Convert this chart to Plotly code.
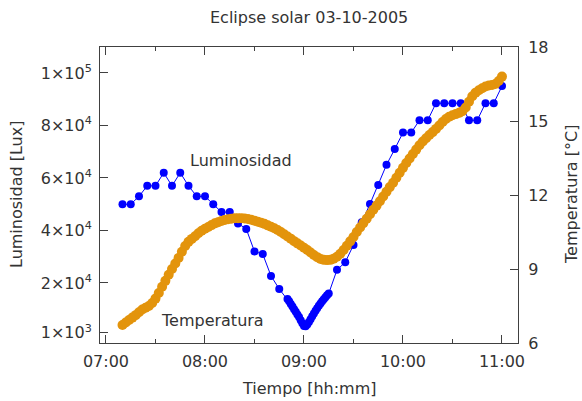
import pandas as pd
import plotly.graph_objects as go

DATE = "2005-10-03"

# Luminosity (Lux)
lum_times = ["07:10", "07:15", "07:20", "07:25", "07:30", "07:35", "07:40", "07:45", "07:50", "07:55",
             "08:00", "08:05", "08:10", "08:15", "08:20", "08:25", "08:30", "08:35", "08:40", "08:45",
             "08:50", "08:51", "08:52", "08:53", "08:54", "08:55", "08:56", "08:57", "08:58", "08:59",
             "09:00", "09:01", "09:02", "09:03", "09:04", "09:05", "09:06", "09:07", "09:08", "09:09",
             "09:10", "09:11", "09:12", "09:13", "09:14", "09:15", "09:20", "09:25", "09:30", "09:35",
             "09:40", "09:45", "09:50", "09:55", "10:00", "10:05", "10:10", "10:15", "10:20", "10:25",
             "10:30", "10:35", "10:40", "10:45", "10:50", "10:55", "11:00"]
lum_values = [50000, 50000, 53000, 57000, 57000, 62000, 57000, 62000, 57000, 53000,
              53000, 50000, 47000, 47000, 42700, 40600, 32000, 31000, 22700, 17700,
              13900, 13000, 12000, 11000, 10000, 9000, 8000, 7000, 5800, 4700,
              3600, 3500, 4200, 5100, 6200, 7300, 8400, 9400, 10400, 11300,
              12200, 13000, 13800, 14600, 15300, 16000, 25000, 27900, 34500, 43100,
              50100, 57300, 65000, 71000, 77300, 77300, 82000, 82000, 88500, 88500,
              88500, 88500, 82000, 82000, 88500, 88500, 95000]

# Temperature (°C), every 2 minutes from 07:10 to 11:00
temp_start = "07:10"
temp_step_min = 2
temp_values = [6.73, 6.83, 6.93, 7.03, 7.13, 7.25, 7.36, 7.43, 7.50, 7.62,
               7.80, 8.03, 8.28, 8.52, 8.77, 9.00, 9.22, 9.45, 9.70, 9.93,
               10.10, 10.22, 10.33, 10.45, 10.55, 10.63, 10.70, 10.78, 10.85, 10.90,
               10.95, 10.99, 11.02, 11.04, 11.06, 11.06, 11.06, 11.05, 11.03, 11.00,
               10.96, 10.92, 10.88, 10.83, 10.77, 10.71, 10.65, 10.58, 10.50, 10.41,
               10.32, 10.23, 10.13, 10.04, 9.95, 9.86, 9.77, 9.67, 9.57, 9.48,
               9.41, 9.37, 9.36, 9.37, 9.42, 9.50, 9.62, 9.77, 9.94, 10.12,
               10.30, 10.50, 10.68, 10.86, 11.04, 11.22, 11.40, 11.57, 11.75, 11.94,
               12.13, 12.32, 12.50, 12.70, 12.90, 13.10, 13.30, 13.48, 13.66, 13.84,
               14.02, 14.17, 14.30, 14.43, 14.55, 14.68, 14.82, 14.96, 15.08, 15.17,
               15.23, 15.28, 15.33, 15.40, 15.55, 15.78, 16.00, 16.15, 16.25, 16.33,
               16.40, 16.44, 16.46, 16.50, 16.62, 16.80]

x_tick_labels = ["07:00", "08:00", "09:00", "10:00", "11:00"]
lum_tick_vals = [1000, 20000, 40000, 60000, 80000, 100000]
lum_tick_text = ["1×10<sup>3</sup>", "2×10<sup>4</sup>", "4×10<sup>4</sup>",
                 "6×10<sup>4</sup>", "8×10<sup>4</sup>", "1×10<sup>5</sup>"]
temp_tick_vals = [6, 9, 12, 15, 18]

lum_x = [f"{DATE} {t}:00" for t in lum_times]
temp_x = pd.date_range(f"{DATE} {temp_start}", periods=len(temp_values),
                       freq=f"{temp_step_min}min")

FONT = "DejaVu Sans"
TXT = "#333333"
LINE = "#404040"
ORANGE = "#E3940C"

fig = go.Figure()
fig.add_trace(go.Scatter(x=temp_x, y=temp_values, yaxis="y2", mode="markers",
                         marker=dict(color=ORANGE, size=10), name="Temperatura"))
fig.add_trace(go.Scatter(x=lum_x, y=lum_values, mode="lines+markers",
                         line=dict(color="blue", width=1),
                         marker=dict(color="blue", size=8), name="Luminosidad"))

fig.update_layout(
    width=582, height=401,
    margin=dict(l=100, r=64, t=47, b=58, autoexpand=False),
    paper_bgcolor="white", plot_bgcolor="white",
    showlegend=False,
    font=dict(family=FONT, size=16, color=TXT),
    xaxis=dict(
        type="date",
        range=[f"{DATE} 06:56:22", f"{DATE} 11:09:42"],
        tickvals=[f"{DATE} {t}:00" for t in x_tick_labels],
        ticktext=x_tick_labels,
        ticks="inside", ticklen=8, tickcolor=LINE, tickwidth=1,
        minor=dict(ticks="inside", ticklen=4, tickcolor=LINE,
                   tickvals=[f"{DATE} 07:30:00", f"{DATE} 08:30:00",
                             f"{DATE} 09:30:00", f"{DATE} 10:30:00"]),
        showline=True, linecolor=LINE, linewidth=1, mirror="ticks",
        showgrid=False, zeroline=False, ticklabelstandoff=4,
    ),
    yaxis=dict(
        range=[-2860, 109900],
        tickvals=lum_tick_vals, ticktext=lum_tick_text,
        ticks="inside", ticklen=8, tickcolor=LINE,
        showline=True, linecolor=LINE, linewidth=1, mirror=False,
        showgrid=False, zeroline=False, ticklabelstandoff=4,
    ),
    yaxis2=dict(
        range=[6, 18], overlaying="y", side="right",
        tickvals=temp_tick_vals,
        ticks="inside", ticklen=8, tickcolor=LINE,
        showline=True, linecolor=LINE, linewidth=1,
        showgrid=False, zeroline=False, ticklabelstandoff=6,
    ),
    annotations=[
        dict(text="Eclipse solar 03-10-2005", xref="paper", yref="paper",
             x=0.5, y=1 + 30 / 296, xanchor="center", yanchor="middle",
             showarrow=False),
        dict(text="Luminosidad", xref="paper", yref="paper",
             x=(241 - 100) / 418, y=(343 - 160) / 296, xanchor="center",
             yanchor="middle", showarrow=False),
        dict(text="Temperatura", xref="paper", yref="paper",
             x=(212 - 100) / 418, y=(343 - 320) / 296, xanchor="center",
             yanchor="middle", showarrow=False),
        dict(text="Tiempo [hh:mm]", xref="paper", yref="paper",
             x=0.5, y=-(388 - 343) / 296, xanchor="center", yanchor="middle",
             showarrow=False),
        dict(text="Luminosidad [Lux]", xref="paper", yref="paper",
             x=-(100 - 16) / 418, y=0.5, xanchor="center", yanchor="middle",
             textangle=-90, showarrow=False),
        dict(text="Temperatura [°C]", xref="paper", yref="paper",
             x=1 + (571 - 518) / 418, y=0.5, xanchor="center", yanchor="middle",
             textangle=-90, showarrow=False),
    ],
)

fig.write_html("out.html", config={"displayModeBar": False},
               post_script="document.body.style.margin='0px';")
